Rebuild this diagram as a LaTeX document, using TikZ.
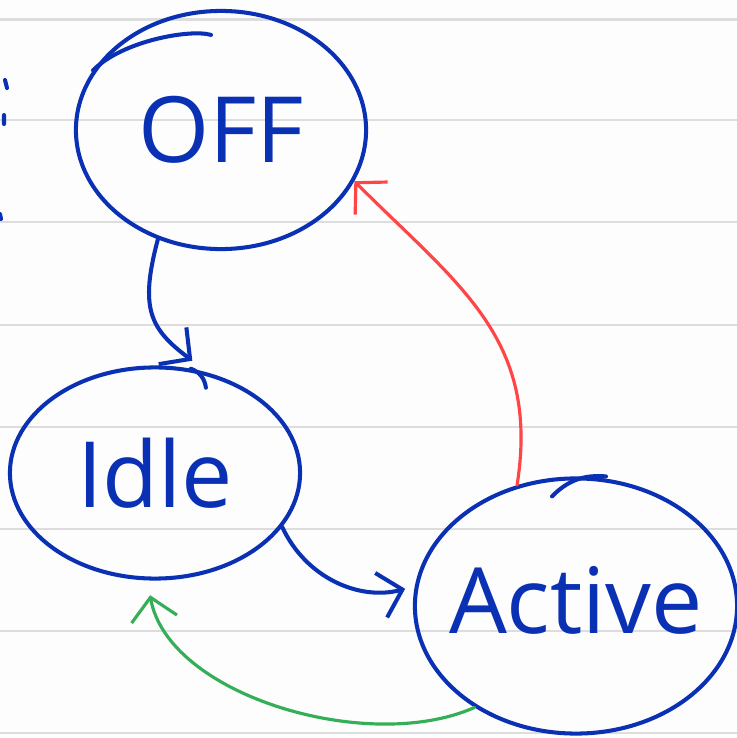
\documentclass[tikz,border=0pt]{standalone}
\usepackage{fontspec}
\setmainfont{Open Sans}
\usetikzlibrary{arrows.meta,shapes.geometric}

\definecolor{ink}{HTML}{0A30B4}
\definecolor{redink}{HTML}{FF4545}
\definecolor{greenink}{HTML}{35AE58}
\definecolor{rule}{HTML}{DDDDDD}
\definecolor{paper}{HTML}{FDFDFD}

\begin{document}
\begin{tikzpicture}[
		x=0.01cm, y=0.01cm,
		state/.style={draw=ink, ellipse, line width=1.15pt, inner sep=0pt, text=ink, font=\fontsize{26}{30}\selectfont},
		pen/.style={line width=1.15pt, line cap=round},
		> = {Straight Barb[length=2.2mm,width=4.6mm]}
		]
		% ruled paper
		\useasboundingbox (0,0) rectangle (737,738);
		\fill[paper] (0,0) rectangle (737,738);
		\foreach \y in {5,107,209,311,413,516,618,719}
			\draw[rule, line width=0.85pt] (0,\y) -- (737,\y);
		\draw[ink, pen] (5,658) -- (7,650) (4,623) -- (4,614) (0,524) -- (1,519);

		% States
		\node[state, minimum width=2.9cm, minimum height=2.38cm] at (221,608) (off) {OFF};
		\node[state, minimum width=2.9cm, minimum height=2.11cm] at (155,265) (idle) {Idle};
		\node[state, minimum width=3.22cm, minimum height=2.55cm, inner xsep=-1.5mm] at (576,132) (active) {\raisebox{1.2mm}{Active}};

		% where the pen went round twice
		\draw[ink, pen] (off.north) ++(-10,-26) .. controls +(-20,6) and +(30,30) .. (off.155);
		\draw[ink, pen] (idle.71) to[bend left=30] ++(15,-19);
		\draw[ink, pen] (active.north) ++(-24,-20) to[bend left=25] ++(54,20);

		% Transitions
		\path[->, pen] (off.-120) edge[draw=ink, out=-105, in=143, looseness=1.3, shorten >=2mm] (idle.62)
					(idle.-23) edge[draw=ink, out=-65, in=195, shorten >=1mm] (active.173)
					(active.116) edge[draw=redink, line width=0.9pt, out=81, in=-45, looseness=1.1] (off.-21)
					(active.225) edge[draw=greenink, line width=0.9pt, out=204, in=-80, looseness=0.85, shorten >=1.5mm] (idle.-94);
	\end{tikzpicture}
\end{document}
